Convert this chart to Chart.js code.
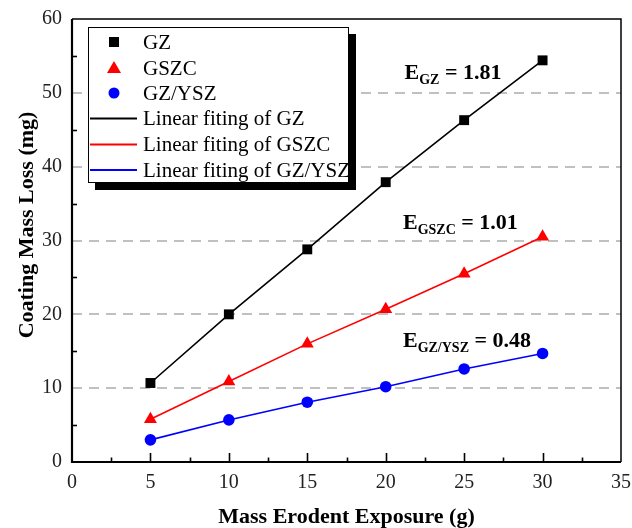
<!DOCTYPE html>
<html><head><meta charset="utf-8">
<script src="https://cdn.jsdelivr.net/npm/chart.js@4/dist/chart.umd.min.js"></script>
<style>html,body{margin:0;padding:0;background:#fff}#wrap{width:632px;height:528px}</style>
</head><body><div id="wrap"><canvas id="c" width="632" height="528"></canvas></div>
<script>
const exposureG = [5, 10, 15, 20, 25, 30];
const GZ = [10.7, 20.0, 28.8, 37.9, 46.3, 54.4];
const GSZC = [5.8, 10.9, 16.0, 20.7, 25.5, 30.5];
const GZYSZ = [3.0, 5.7, 8.1, 10.2, 12.6, 14.7];
const xTicks = [0, 5, 10, 15, 20, 25, 30, 35];
const yTicks = [0, 10, 20, 30, 40, 50, 60];
const seriesNames = ['GZ', 'GSZC', 'GZ/YSZ'];
const fitNames = ['Linear fiting of GZ', 'Linear fiting of GSZC', 'Linear fiting of GZ/YSZ'];
const slopes = ['1.81', '1.01', '0.48'];

const SERIF = "'Liberation Serif','Times New Roman',serif";
const colors = ['#000000', '#ff0000', '#0000ff'];
const shapes = ['rect', 'triangle', 'circle'];
const radii = [7, 7.5, 5.8];
const seriesData = [GZ, GSZC, GZYSZ];

function pts(arr) { return exposureG.map((x, i) => ({x: x, y: arr[i]})); }

const datasets = [];
for (let i = 0; i < 3; i++) {
  datasets.push({
    label: fitNames[i], data: pts(seriesData[i]), showLine: true,
    borderColor: colors[i], borderWidth: 1.6, pointRadius: 0, order: 2,
    kind: 'line'
  });
}
for (let i = 0; i < 3; i++) {
  datasets.push({
    label: seriesNames[i], data: pts(seriesData[i]), showLine: false,
    backgroundColor: colors[i], borderColor: colors[i], borderWidth: 0,
    pointStyle: shapes[i], pointRadius: radii[i], order: 1, kind: 'marker'
  });
}

const decor = {
  id: 'decor',
  beforeDatasetsDraw(chart) {
    const {ctx, chartArea: a, scales: {y}} = chart;
    ctx.save();
    ctx.strokeStyle = '#c0c0c0'; ctx.lineWidth = 2; ctx.setLineDash([10, 7]);
    yTicks.forEach(v => {
      if (v <= 0 || v >= 60) return;
      const py = Math.round(y.getPixelForValue(v));
      ctx.beginPath(); ctx.moveTo(a.left, py); ctx.lineTo(a.right, py); ctx.stroke();
    });
    ctx.restore();
  },
  afterDatasetsDraw(chart) {
    const {ctx, chartArea: a, scales: {x, y}} = chart;
    ctx.save();
    // y axis title
    ctx.save();
    ctx.translate(27, 225); ctx.rotate(-Math.PI / 2);
    ctx.font = 'bold 22px ' + SERIF; ctx.fillStyle = '#000';
    ctx.textAlign = 'center'; ctx.textBaseline = 'middle';
    ctx.fillText('Coating Mass Loss (mg)', 0, 0);
    ctx.restore();
    // frame
    ctx.strokeStyle = '#000';
    ctx.lineWidth = 1.5;
    ctx.beginPath(); ctx.moveTo(a.left, a.top); ctx.lineTo(a.right, a.top); ctx.lineTo(a.right, a.bottom); ctx.stroke();
    ctx.lineWidth = 2.2;
    ctx.beginPath(); ctx.moveTo(a.left, a.top); ctx.lineTo(a.left, a.bottom); ctx.lineTo(a.right, a.bottom); ctx.stroke();
    // x ticks inward
    ctx.lineWidth = 1.6;
    for (let v = 2.5; v < 35; v += 2.5) {
      const px = Math.round(x.getPixelForValue(v)) + 0.5;
      const major = Math.abs(v % 5) < 1e-6;
      const len = major ? 9 : 4.5;
      ctx.beginPath(); ctx.moveTo(px, a.bottom); ctx.lineTo(px, a.bottom - len); ctx.stroke();
    }
    // y minor ticks inward
    for (let v = 5; v < 60; v += 10) {
      const py = Math.round(y.getPixelForValue(v)) + 0.5;
      ctx.beginPath(); ctx.moveTo(a.left, py); ctx.lineTo(a.left + 5, py); ctx.stroke();
    }
    // annotations
    const ann = [
      {sub: 'GZ', val: slopes[0], x: 21.2, y: 51.85},
      {sub: 'GSZC', val: slopes[1], x: 21.1, y: 31.5},
      {sub: 'GZ/YSZ', val: slopes[2], x: 21.1, y: 15.6}
    ];
    ctx.fillStyle = '#000'; ctx.textBaseline = 'alphabetic'; ctx.textAlign = 'left';
    ann.forEach(t => {
      let px = x.getPixelForValue(t.x), py = y.getPixelForValue(t.y);
      ctx.font = 'bold 22px ' + SERIF;
      ctx.fillText('E', px, py); px += ctx.measureText('E').width;
      ctx.font = 'bold 14px ' + SERIF;
      ctx.fillText(t.sub, px, py + 5); px += ctx.measureText(t.sub).width;
      ctx.font = 'bold 22px ' + SERIF;
      ctx.fillText(' = ' + t.val, px, py);
    });
    // legend box with shadow
    const L = 88, T = 27, R = 349, B = 183;
    ctx.fillStyle = '#000';
    ctx.fillRect(L + 7, T + 7, R - L, B - T);
    ctx.fillStyle = '#fff';
    ctx.fillRect(L, T, R - L, B - T);
    ctx.strokeStyle = '#000'; ctx.lineWidth = 1; ctx.setLineDash([]);
    ctx.strokeRect(L + 0.5, T + 0.5, R - L - 1, B - T - 1);
    const rows = [42, 68, 93, 118.5, 144.5, 170];
    ctx.font = '21px ' + SERIF; ctx.textBaseline = 'middle';
    const ds = chart.data.datasets;
    const order = [3, 4, 5, 0, 1, 2];
    order.forEach((di, r) => {
      const d = ds[di]; const cy = rows[r];
      ctx.fillStyle = d.borderColor; ctx.strokeStyle = d.borderColor;
      if (d.kind === 'marker') {
        const cx = 114;
        ctx.beginPath();
        if (d.pointStyle === 'rect') { ctx.fillRect(cx - 5, cy - 5, 10, 10); }
        else if (d.pointStyle === 'triangle') {
          ctx.moveTo(cx, cy - 7); ctx.lineTo(cx + 7, cy + 5); ctx.lineTo(cx - 7, cy + 5); ctx.closePath(); ctx.fill();
        } else { ctx.arc(cx, cy, 5.5, 0, Math.PI * 2); ctx.fill(); }
      } else {
        ctx.lineWidth = 2;
        ctx.beginPath(); ctx.moveTo(90, cy); ctx.lineTo(137, cy); ctx.stroke();
      }
      ctx.fillStyle = '#000';
      ctx.fillText(d.label, 143, cy + 1);
    });
    ctx.restore();
  }
};

new Chart(document.getElementById('c'), {
  type: 'scatter',
  data: {datasets: datasets},
  options: {
    responsive: false, animation: false,
    layout: {padding: {top: 19, right: 11, left: 0, bottom: 0}},
    plugins: {legend: {display: false}, tooltip: {enabled: false}},
    scales: {
      x: {
        type: 'linear', min: 0, max: 35,
        afterBuildTicks(s) { s.ticks = xTicks.map(v => ({value: v})); },
        afterFit(s) { s.height = 66; s.paddingLeft = 0; s.paddingRight = 0; },
        grid: {display: false, drawTicks: false}, border: {display: false},
        ticks: {padding: 9, color: '#222', font: {family: SERIF, size: 20}},
        title: {display: true, text: 'Mass Erodent Exposure (g)', color: '#000',
          font: {family: SERIF, size: 22, weight: 'bold'}, padding: {top: 0, bottom: -3}}
      },
      y: {
        type: 'linear', min: 0, max: 60,
        afterBuildTicks(s) { s.ticks = yTicks.map(v => ({value: v})); },
        afterFit(s) { s.width = 72; s.paddingTop = 0; s.paddingBottom = 0; },
        grid: {display: false, drawTicks: false}, border: {display: false},
        ticks: {padding: 10, color: '#222', font: {family: SERIF, size: 20}},
        title: {display: false}
      }
    }
  },
  plugins: [decor]
});
</script>
</body></html>
